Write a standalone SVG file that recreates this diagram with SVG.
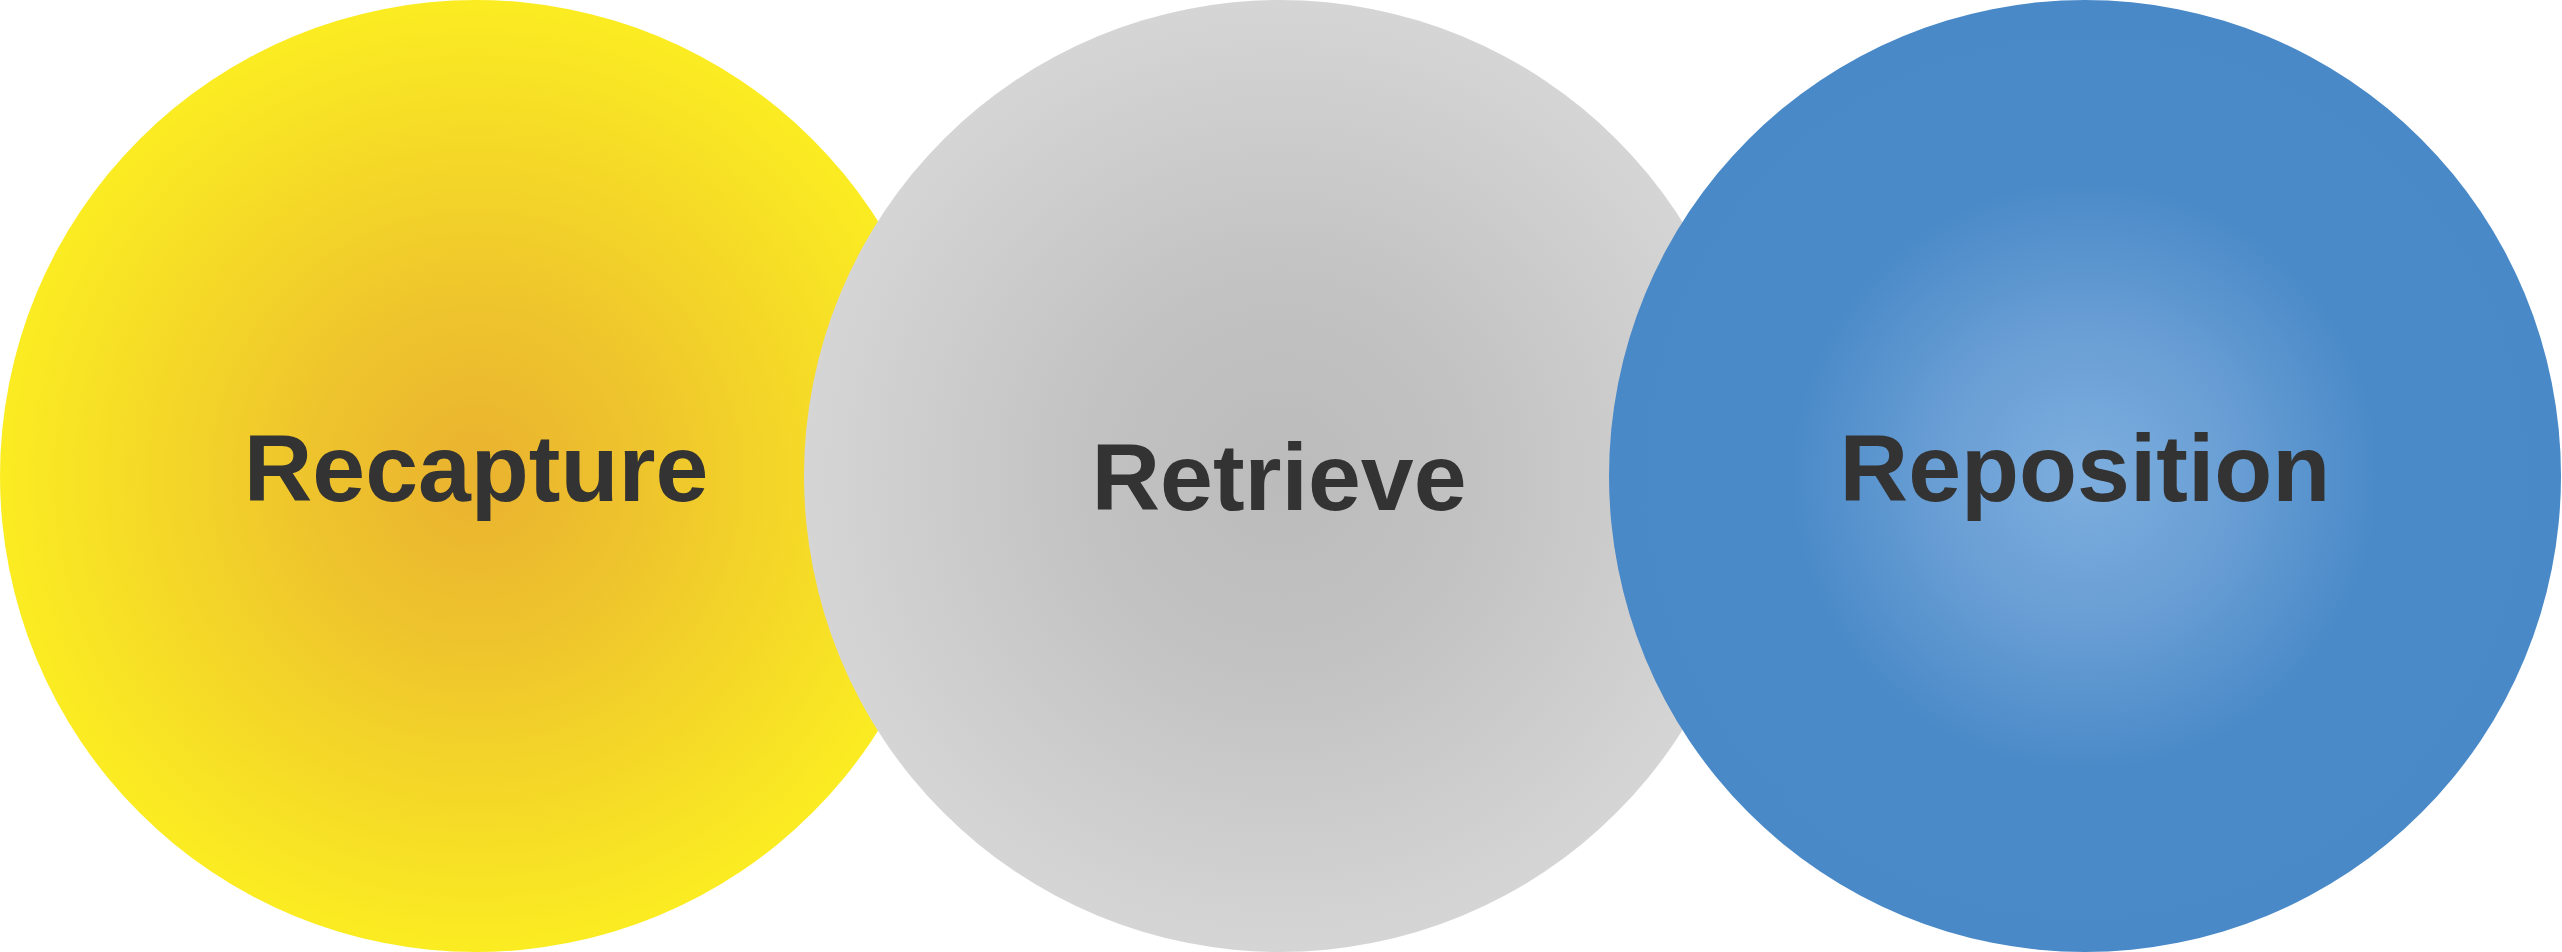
<svg xmlns="http://www.w3.org/2000/svg" width="2562" height="952" viewBox="0 0 2562 952">
  <style>
    .label { font-family: "Liberation Sans", Arial, sans-serif; font-weight: bold; font-size: 95px; fill: #333333; text-anchor: middle; }
  </style>
  <defs>
    <radialGradient id="gYellow" cx="0.5" cy="0.5" r="0.5">
      <stop offset="0" stop-color="#EAB22F"/>
      <stop offset="0.35" stop-color="#EEC42D"/>
      <stop offset="1" stop-color="#FBEC22"/>
    </radialGradient>
    <radialGradient id="gGrey" cx="0.5" cy="0.5" r="0.5">
      <stop offset="0" stop-color="#BBBBBB"/>
      <stop offset="0.4" stop-color="#C3C2C3"/>
      <stop offset="1" stop-color="#D6D5D6"/>
    </radialGradient>
    <radialGradient id="gBlue" cx="0.5" cy="0.5" r="0.5">
      <stop offset="0" stop-color="#7DAEDE"/>
      <stop offset="0.3" stop-color="#6A9FD5"/>
      <stop offset="0.62" stop-color="#4A8AC8"/>
      <stop offset="1" stop-color="#4989C7"/>
    </radialGradient>
  </defs>
  <rect width="2562" height="952" fill="#FFFFFF"/>
  <g id="connectors"></g>
  <g id="node-recapture">
    <circle cx="476" cy="476" r="476" fill="url(#gYellow)"/>
    <text class="label" x="476" y="501">Recapture</text>
  </g>
  <g id="node-retrieve">
    <circle cx="1280" cy="476" r="476" fill="url(#gGrey)"/>
    <text class="label" x="1279" y="510">Retrieve</text>
  </g>
  <g id="node-reposition">
    <circle cx="2085" cy="476" r="476" fill="url(#gBlue)"/>
    <text class="label" x="2085" y="501">Reposition</text>
  </g>
</svg>
